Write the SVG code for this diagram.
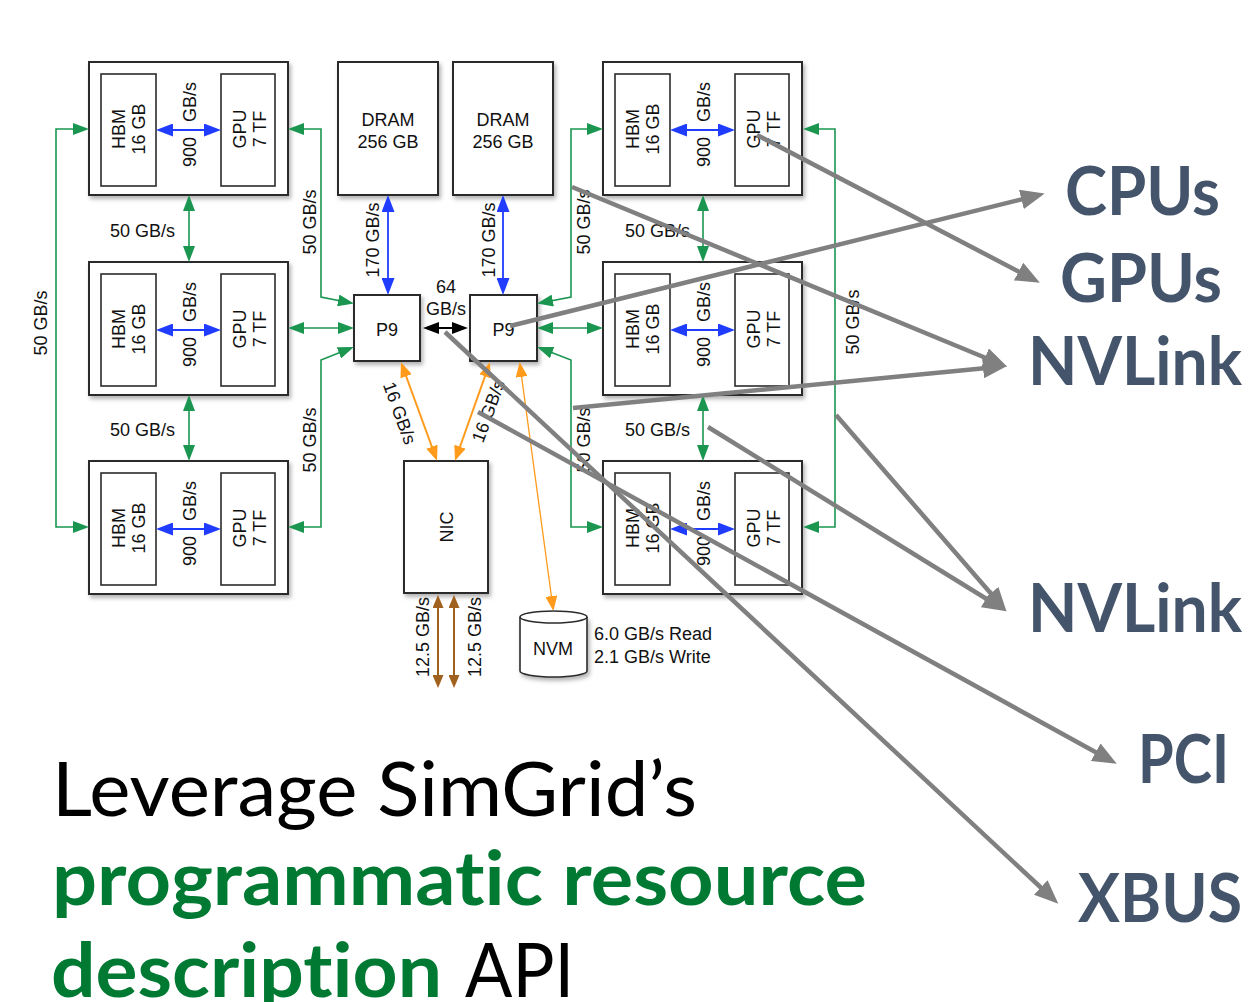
<svg xmlns="http://www.w3.org/2000/svg" width="1259" height="1002" viewBox="0 0 1259 1002">
<style>
.box{fill:#fff;stroke:#2b2b2b;stroke-width:2}
.inner{fill:#fff;stroke:#2b2b2b;stroke-width:1.6}
.t{font-family:"Liberation Sans",Arial,sans-serif;font-size:18px;fill:#111}
.m{text-anchor:middle}
.g{fill:none;stroke:#1a9650;stroke-width:1.6;marker-start:url(#mg);marker-end:url(#mg)}
.b{fill:none;stroke:#1f3cff;stroke-width:1.8;marker-start:url(#mb);marker-end:url(#mb)}
.k{fill:none;stroke:#000;stroke-width:1.8;marker-start:url(#mk);marker-end:url(#mk)}
.o{fill:none;stroke:#ff9a1a;stroke-width:2;marker-start:url(#mo);marker-end:url(#mo)}
.o2{fill:none;stroke:#ff9a1a;stroke-width:1.3;marker-start:url(#mo);marker-end:url(#mo)}
.br{fill:none;stroke:#a0601e;stroke-width:2;marker-start:url(#mbr);marker-end:url(#mbr)}
.gr{fill:none;stroke:#808080;stroke-width:4.5;marker-end:url(#mgr)}
.lab{font-family:Lato,"Open Sans",sans-serif;font-weight:700;font-size:66px;fill:#44546a}
.big{font-family:Lato,"Open Sans",sans-serif;font-size:75px;font-variant-ligatures:none;font-feature-settings:"liga" 0,"clig" 0}
</style>
<defs>
<filter id="sh" x="-10%" y="-10%" width="130%" height="130%"><feDropShadow dx="2" dy="3" stdDeviation="2" flood-color="#000" flood-opacity="0.3"/></filter>
<marker id="mg" markerUnits="userSpaceOnUse" markerWidth="16" markerHeight="12" refX="13" refY="6" orient="auto-start-reverse"><path d="M0,0 L16,6 L0,12 z" fill="#1a9650"/></marker>
<marker id="mb" markerUnits="userSpaceOnUse" markerWidth="17" markerHeight="13" refX="14" refY="6.5" orient="auto-start-reverse"><path d="M0,0 L17,6.5 L0,13 z" fill="#1f3cff"/></marker>
<marker id="mk" markerUnits="userSpaceOnUse" markerWidth="16" markerHeight="12" refX="13" refY="6" orient="auto-start-reverse"><path d="M0,0 L16,6 L0,12 z" fill="#000"/></marker>
<marker id="mo" markerUnits="userSpaceOnUse" markerWidth="15" markerHeight="12" refX="12" refY="6" orient="auto-start-reverse"><path d="M0,0 L15,6 L0,12 z" fill="#ff9a1a"/></marker>
<marker id="mbr" markerUnits="userSpaceOnUse" markerWidth="13" markerHeight="11" refX="10" refY="5.5" orient="auto-start-reverse"><path d="M0,0 L13,5.5 L0,11 z" fill="#a0601e"/></marker>
<marker id="mgr" markerUnits="userSpaceOnUse" markerWidth="24" markerHeight="20" refX="14" refY="10" orient="auto"><path d="M0,0 L24,10 L0,20 z" fill="#808080"/></marker>
<g id="gpuboard">
<rect class="box" x="0" y="0" width="199" height="133" filter="url(#sh)"/>
<rect class="inner" x="12" y="12" width="55" height="112"/>
<rect class="inner" x="132" y="12" width="54" height="112"/>
<text class="t m" transform="translate(39,67) rotate(-90)"><tspan x="0" y="-3.5">HBM</tspan><tspan x="0" y="16.5">16 GB</tspan></text>
<text class="t m" transform="translate(160,67) rotate(-90)"><tspan x="0" y="-3.5">GPU</tspan><tspan x="0" y="16.5">7 TF</tspan></text>
<text class="t m" transform="translate(100,68) rotate(-90)"><tspan x="-22" y="6.5">900</tspan><tspan x="28" y="6.5">GB/s</tspan></text>
</g>
</defs>

<g id="nodes">
<g id="gpu-L1"><use href="#gpuboard" x="89" y="62"/></g>
<g id="gpu-L2"><use href="#gpuboard" x="89" y="262"/></g>
<g id="gpu-L3"><use href="#gpuboard" x="89" y="461"/></g>
<g id="gpu-R1"><use href="#gpuboard" x="603" y="62"/></g>
<g id="gpu-R2"><use href="#gpuboard" x="603" y="262"/></g>
<g id="gpu-R3"><use href="#gpuboard" x="603" y="461"/></g>
<g id="dram1"><rect class="box" x="338" y="62" width="100" height="133" filter="url(#sh)"/><text class="t m" x="388" y="126">DRAM</text><text class="t m" x="388" y="148">256 GB</text></g>
<g id="dram2"><rect class="box" x="453" y="62" width="100" height="133" filter="url(#sh)"/><text class="t m" x="503" y="126">DRAM</text><text class="t m" x="503" y="148">256 GB</text></g>
<g id="p9a"><rect class="box" x="354" y="295" width="66" height="66" filter="url(#sh)"/><text class="t m" x="387" y="336">P9</text></g>
<g id="p9b"><rect class="box" x="470" y="295" width="67" height="66" filter="url(#sh)"/><text class="t m" x="503.5" y="336">P9</text></g>
<g id="nic"><rect class="box" x="404" y="461" width="84" height="132" filter="url(#sh)"/><text class="t m" transform="translate(446,527) rotate(-90)" y="6.5">NIC</text></g>
<g id="nvm">
<path d="M520,617 L520,671 A33.5,6 0 0 0 587,671 L587,617" fill="#fff" stroke="#2b2b2b" stroke-width="1.6" filter="url(#sh)"/>
<ellipse cx="553.5" cy="617" rx="33.5" ry="6" fill="#fff" stroke="#2b2b2b" stroke-width="1.6"/>
<text class="t m" x="553" y="655">NVM</text>
<text class="t" x="594" y="640">6.0 GB/s Read</text>
<text class="t" x="594" y="663">2.1 GB/s Write</text>
</g>
</g>

<g id="connectors">
<line class="b" x1="159" y1="130" x2="218" y2="130"/>
<line class="b" x1="159" y1="330" x2="218" y2="330"/>
<line class="b" x1="159" y1="529" x2="218" y2="529"/>
<line class="b" x1="673" y1="130" x2="732" y2="130"/>
<line class="b" x1="673" y1="330" x2="732" y2="330"/>
<line class="b" x1="673" y1="529" x2="732" y2="529"/>
<line class="b" x1="388" y1="198" x2="388" y2="292"/>
<line class="b" x1="503" y1="198" x2="503" y2="292"/>
<text class="t m" transform="translate(372,240) rotate(-90)" y="6.5">170 GB/s</text>
<text class="t m" transform="translate(488,240) rotate(-90)" y="6.5">170 GB/s</text>
<line class="k" x1="426" y1="328" x2="465" y2="328"/>
<text class="t m" x="446" y="293">64</text>
<text class="t m" x="446" y="315">GB/s</text>
<polyline class="g" points="189,198 189,259"/>
<polyline class="g" points="189,398 189,458"/>
<polyline class="g" points="703,198 703,259"/>
<polyline class="g" points="703,398 703,458"/>
<text class="t" x="175" y="237" text-anchor="end">50 GB/s</text>
<text class="t" x="175" y="436" text-anchor="end">50 GB/s</text>
<text class="t" x="690" y="237" text-anchor="end">50 GB/s</text>
<text class="t" x="690" y="436" text-anchor="end">50 GB/s</text>
<polyline class="g" points="86,129 56,129 56,527 86,527"/>
<polyline class="g" points="806,129 835,129 835,527 806,527"/>
<text class="t m" transform="translate(40,323) rotate(-90)" y="6.5">50 GB/s</text>
<text class="t m" transform="translate(852,322) rotate(-90)" y="6.5">50 GB/s</text>
<polyline class="g" points="291,129 321,129 321,297 351,303"/>
<polyline class="g" points="291,328 351,328"/>
<polyline class="g" points="291,527 321,527 321,360 351,348"/>
<polyline class="g" points="600,129 571,129 571,297 540,303"/>
<polyline class="g" points="540,328 600,328"/>
<polyline class="g" points="600,527 571,527 571,360 540,348"/>
<text class="t m" transform="translate(309,222) rotate(-90)" y="6.5">50 GB/s</text>
<text class="t m" transform="translate(309,440) rotate(-90)" y="6.5">50 GB/s</text>
<text class="t m" transform="translate(583,222) rotate(-90)" y="6.5">50 GB/s</text>
<text class="t m" transform="translate(583,440) rotate(-90)" y="6.5">50 GB/s</text>
<line class="o" x1="402" y1="365" x2="436" y2="458"/>
<line class="o" x1="489" y1="365" x2="456" y2="458"/>
<line class="o2" x1="520" y1="365" x2="553" y2="608"/>
<text class="t m" transform="translate(400,413) rotate(70)" y="6.5">16 GB/s</text>
<text class="t m" transform="translate(488,411) rotate(-70)" y="6.5">16 GB/s</text>
<line class="br" x1="438" y1="598" x2="438" y2="685"/>
<line class="br" x1="454" y1="598" x2="454" y2="685"/>
<text class="t m" transform="translate(422,637) rotate(-90)" y="6.5">12.5 GB/s</text>
<text class="t m" transform="translate(474,637) rotate(-90)" y="6.5">12.5 GB/s</text>
<line class="gr" x1="757" y1="135" x2="1031" y2="278"/>
<line class="gr" x1="572" y1="187" x2="998" y2="363"/>
<line class="gr" x1="510" y1="326" x2="1035" y2="196"/>
<line class="gr" x1="573" y1="408" x2="997" y2="367"/>
<line class="gr" x1="708" y1="427" x2="998" y2="606"/>
<line class="gr" x1="836" y1="415" x2="1000" y2="604"/>
<line class="gr" x1="478" y1="412" x2="1108" y2="759"/>
<line class="gr" x1="445" y1="332" x2="1051" y2="897"/>
</g>

<g id="labels">
<text class="lab" x="1065" y="215" textLength="155" lengthAdjust="spacingAndGlyphs">CPUs</text>
<text class="lab" x="1060" y="302" textLength="162" lengthAdjust="spacingAndGlyphs">GPUs</text>
<text class="lab" x="1028" y="385" textLength="214" lengthAdjust="spacingAndGlyphs">NVLink</text>
<text class="lab" x="1028" y="632" textLength="214" lengthAdjust="spacingAndGlyphs">NVLink</text>
<text class="lab" x="1138" y="783" textLength="91" lengthAdjust="spacingAndGlyphs">PCI</text>
<text class="lab" x="1078" y="922" textLength="164" lengthAdjust="spacingAndGlyphs">XBUS</text>
</g>

<g id="caption">
<text class="big" x="52" y="816" fill="#000" textLength="645" lengthAdjust="spacingAndGlyphs">Leverage SimGrid’s</text>
<text class="big" x="52" y="905" fill="#007a33" font-weight="700" textLength="815" lengthAdjust="spacingAndGlyphs">programmatic resource</text>
<text class="big" x="51" y="997" fill="#007a33" font-weight="700" textLength="391" lengthAdjust="spacingAndGlyphs">description</text>
<text class="big" x="465" y="997" fill="#000" textLength="109" lengthAdjust="spacingAndGlyphs">API</text>
</g>
</svg>
